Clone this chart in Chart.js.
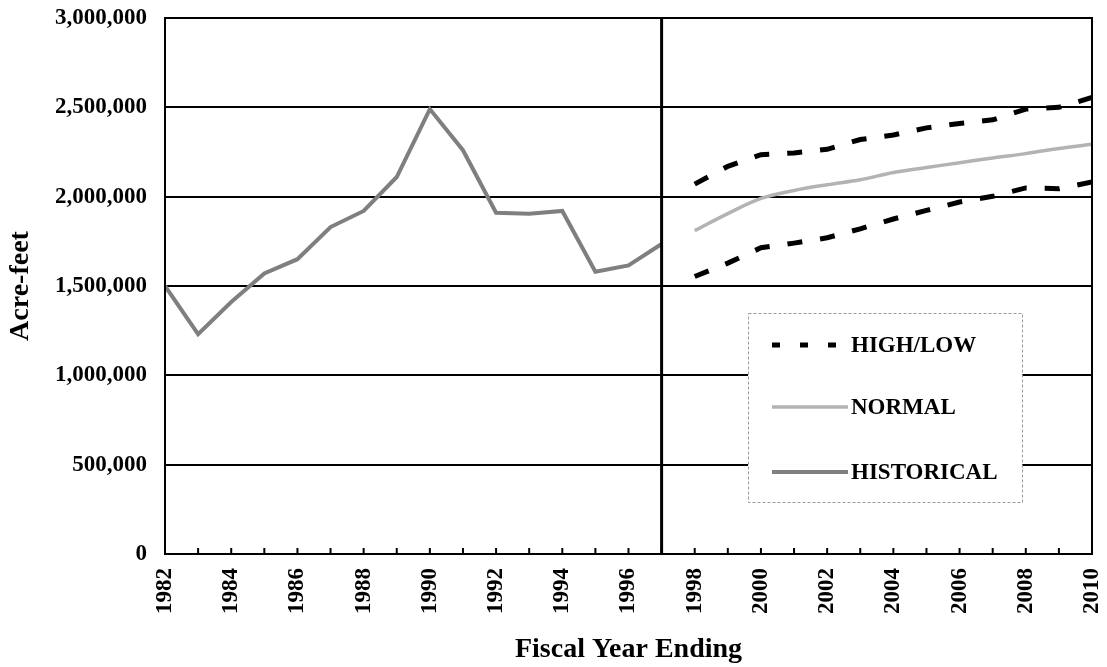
<!DOCTYPE html>
<html>
<head>
<meta charset="utf-8">
<title>Acre-feet by Fiscal Year</title>
<script src="https://cdn.jsdelivr.net/npm/chart.js@4.4.0/dist/chart.umd.min.js"></script>
<style>
    html, body { margin: 0; padding: 0; background: #ffffff; }
    #wrap { width: 1107px; height: 667px; }
</style>
</head>
<body>
<div id="wrap"><canvas id="acreChart" width="1107" height="667"></canvas></div>
<script>
// Historical deliveries, fiscal years 1982-1997
const historicalYears = [1982, 1983, 1984, 1985, 1986, 1987, 1988, 1989, 1990, 1991, 1992, 1993, 1994, 1995, 1996, 1997];
const historicalValues = [1500000, 1230000, 1410000, 1570000, 1650000, 1830000, 1920000, 2110000, 2490000, 2260000, 1910000, 1905000, 1920000, 1580000, 1615000, 1735000];

// Forecast, fiscal years 1998-2010
const forecastYears = [1998, 1999, 2000, 2001, 2002, 2003, 2004, 2005, 2006, 2007, 2008, 2009, 2010];
const highValues = [2070000, 2170000, 2235000, 2245000, 2265000, 2320000, 2345000, 2385000, 2410000, 2430000, 2490000, 2500000, 2555000];
const normalValues = [1810000, 1905000, 1990000, 2035000, 2067000, 2095000, 2135000, 2163000, 2190000, 2217000, 2241000, 2270000, 2293000];
const lowValues = [1553000, 1628000, 1714000, 1740000, 1770000, 1820000, 1875000, 1923000, 1970000, 2002000, 2049000, 2045000, 2082000];

const yMin = 0;
const yMax = 3000000;
const yStep = 500000;
const xMin = 1982;
const xMax = 2010;
const xLabelStep = 2;
const dividerYear = 1997;

const legendLabels = ['HIGH/LOW', 'NORMAL', 'HISTORICAL'];

const serif = '"Liberation Serif", "Times New Roman", serif';
const historicalColor = '#7f7f7f';
const normalColor = '#b3b3b3';
const highLowColor = '#000000';

function toPoints(years, values) {
    return years.map((year, i) => ({ x: year, y: values[i] }));
}

// keep label overflow from pushing the plot area around
function noOverflow(scale) {
    scale.paddingLeft = 0;
    scale.paddingRight = 0;
    scale.paddingTop = 0;
    scale.paddingBottom = 0;
}

// Frame, 1997 divider and the small yearly tick marks
const framePlugin = {
    id: 'frame',
    afterDatasetsDraw(chart) {
        const { ctx, chartArea, scales } = chart;
        ctx.save();
        ctx.strokeStyle = '#000';

        ctx.lineWidth = 3;
        const xDiv = scales.x.getPixelForValue(dividerYear);
        ctx.beginPath();
        ctx.moveTo(xDiv, chartArea.top);
        ctx.lineTo(xDiv, chartArea.bottom);
        ctx.stroke();

        ctx.lineWidth = 2;
        for (let year = xMin + 1; year < xMax; year++) {
            const x = scales.x.getPixelForValue(year);
            ctx.beginPath();
            ctx.moveTo(x, chartArea.bottom);
            ctx.lineTo(x, chartArea.bottom - 6);
            ctx.stroke();
        }

        ctx.strokeRect(chartArea.left, chartArea.top, chartArea.right - chartArea.left, chartArea.bottom - chartArea.top);
        ctx.restore();
    }
};

// Boxed legend inside the forecast area
const boxLegendPlugin = {
    id: 'boxLegend',
    afterDraw(chart) {
        const { ctx } = chart;
        const box = { left: 748, top: 313, width: 274, height: 189 };
        const rows = [345, 407, 472];
        const styles = [
            { color: highLowColor, width: 5, dash: [8, 20] },
            { color: normalColor, width: 3.5, dash: [] },
            { color: historicalColor, width: 4, dash: [] }
        ];

        ctx.save();
        ctx.fillStyle = '#ffffff';
        ctx.fillRect(box.left, box.top, box.width, box.height);
        ctx.strokeStyle = '#9a9a9a';
        ctx.lineWidth = 1;
        ctx.setLineDash([3, 2]);
        ctx.strokeRect(box.left + 0.5, box.top + 0.5, box.width, box.height);

        legendLabels.forEach((label, i) => {
            const s = styles[i];
            ctx.setLineDash(s.dash);
            ctx.strokeStyle = s.color;
            ctx.lineWidth = s.width;
            ctx.beginPath();
            ctx.moveTo(772, rows[i]);
            ctx.lineTo(848, rows[i]);
            ctx.stroke();

            ctx.fillStyle = '#000';
            ctx.font = 'bold 23px ' + serif;
            ctx.textAlign = 'left';
            ctx.textBaseline = 'middle';
            ctx.fillText(label, 851, rows[i] + 1);
        });
        ctx.restore();
    }
};

const ctx = document.getElementById('acreChart');
new Chart(ctx, {
    type: 'line',
    data: {
        datasets: [
            {
                label: 'HIGH',
                data: toPoints(forecastYears, highValues),
                borderColor: highLowColor,
                borderWidth: 5,
                borderDash: [15, 18],
                tension: 0
            },
            {
                label: 'LOW',
                data: toPoints(forecastYears, lowValues),
                borderColor: highLowColor,
                borderWidth: 5,
                borderDash: [15, 18],
                tension: 0
            },
            {
                label: 'NORMAL',
                data: toPoints(forecastYears, normalValues),
                borderColor: normalColor,
                borderWidth: 3.5,
                tension: 0.35
            },
            {
                label: 'HISTORICAL',
                data: toPoints(historicalYears, historicalValues),
                borderColor: historicalColor,
                borderWidth: 4,
                tension: 0
            }
        ]
    },
    options: {
        responsive: false,
        animation: false,
        layout: { padding: { top: 18, right: 15, left: 0, bottom: 0 } },
        elements: { point: { radius: 0 } },
        plugins: {
            legend: { display: false },
            tooltip: { enabled: false }
        },
        scales: {
            x: {
                type: 'linear',
                min: xMin,
                max: xMax,
                afterFit: (scale) => { scale.height = 113; noOverflow(scale); },
                ticks: {
                    stepSize: xLabelStep,
                    autoSkip: false,
                    minRotation: 90,
                    maxRotation: 90,
                    padding: 14,
                    color: '#000',
                    font: { family: serif, size: 23, weight: 'bold' },
                    callback: (value) => String(value)
                },
                grid: { drawOnChartArea: false, drawTicks: false },
                border: { display: true, color: '#000', width: 2 },
                title: {
                    display: true,
                    text: 'Fiscal Year Ending',
                    color: '#000',
                    font: { family: serif, size: 28, weight: 'bold' },
                    padding: { top: 6, bottom: 0 }
                }
            },
            y: {
                min: yMin,
                max: yMax,
                afterFit: (scale) => { scale.width = 165; noOverflow(scale); },
                ticks: {
                    stepSize: yStep,
                    padding: 18,
                    color: '#000',
                    font: { family: serif, size: 23, weight: 'bold' },
                    callback: (value) => value.toLocaleString('en-US')
                },
                grid: { color: '#000', lineWidth: 2, drawTicks: false },
                border: { display: true, color: '#000', width: 2 },
                title: {
                    display: true,
                    text: 'Acre-feet',
                    color: '#000',
                    font: { family: serif, size: 28, weight: 'bold' },
                    padding: { top: 4, bottom: 0 }
                }
            }
        }
    },
    plugins: [framePlugin, boxLegendPlugin]
});
</script>
</body>
</html>
